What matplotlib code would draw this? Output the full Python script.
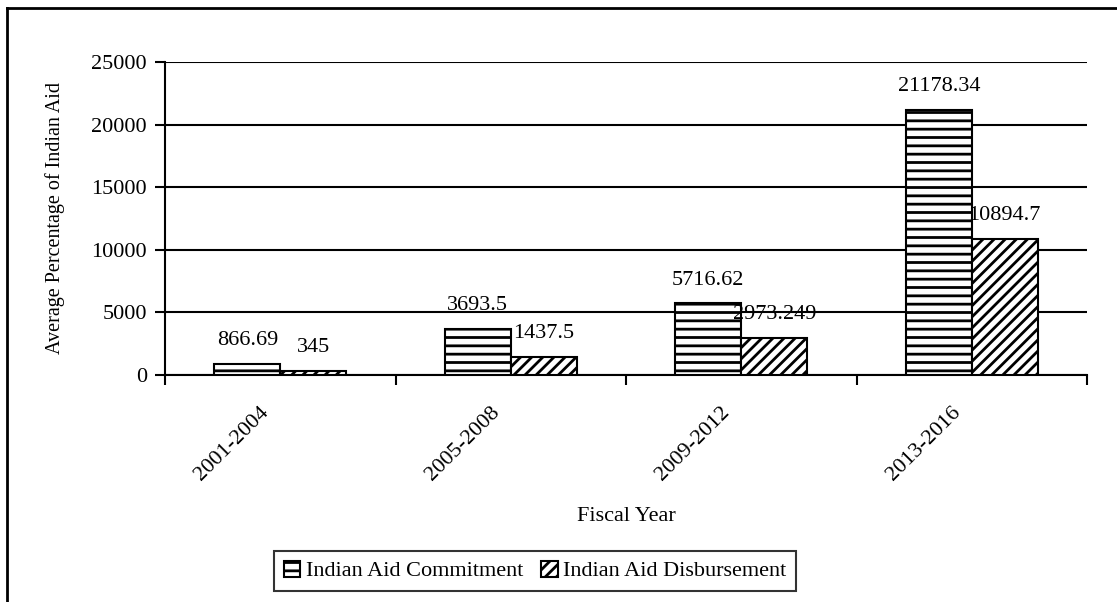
import numpy as np
import matplotlib.pyplot as plt
from matplotlib.lines import Line2D

# Average Indian aid per fiscal-year block
periods = ["2001-2004", "2005-2008", "2009-2012", "2013-2016"]
commitment = [866.69, 3693.5, 5716.62, 21178.34]
disbursement = [345, 1437.5, 2973.249, 10894.7]
commitment_labels = ["866.69", "3693.5", "5716.62", "21178.34"]
disbursement_labels = ["345", "1437.5", "2973.249", "10894.7"]

plt.rcParams['font.family'] = 'Liberation Serif'
plt.rcParams['font.size'] = 16
plt.rcParams['hatch.linewidth'] = 2.0

fig = plt.figure(figsize=(11.17, 6.02), dpi=100)
ax = fig.add_axes([0.1477, 0.3771, 0.8255, 0.5199])

x = np.arange(len(periods))
w = 0.286
b1 = ax.bar(x - w / 2, commitment, w, color='white', edgecolor='black',
            linewidth=1.5, hatch='--', label='Indian Aid Commitment', zorder=3)
b2 = ax.bar(x + w / 2, disbursement, w, color='white', edgecolor='black',
            linewidth=1.5, hatch='///', label='Indian Aid Disbursement', zorder=3)

for rect, txt in zip(b1, commitment_labels):
    ax.annotate(txt, (rect.get_x() + rect.get_width() / 2, rect.get_height()),
                xytext=(0, 10), textcoords='offset points', ha='center', va='bottom')
for rect, txt in zip(b2, disbursement_labels):
    ax.annotate(txt, (rect.get_x() + rect.get_width() / 2, rect.get_height()),
                xytext=(0, 10), textcoords='offset points', ha='center', va='bottom')

ax.set_xlim(-0.5, 3.5)
ax.set_ylim(0, 25000)
ax.set_yticks(np.arange(0, 25001, 5000))
ax.yaxis.grid(True, color='black', linewidth=1.5, zorder=0)
ax.set_axisbelow(True)

# slanted labels sit slightly left of each group centre (major ticks are invisible)
ax.set_xticks(x - 0.06)
ax.set_xticklabels(periods, rotation=45, ha='right', va='center', rotation_mode='anchor')
ax.set_xticks(np.arange(-0.5, 4, 1), minor=True)
ax.tick_params(axis='x', which='major', length=0, pad=25)
ax.tick_params(axis='x', which='minor', length=7, width=1.5, direction='out')
ax.tick_params(axis='y', length=7, width=1.5, direction='out', pad=6)

for side in ['top', 'right']:
    ax.spines[side].set_visible(False)
for side in ['left', 'bottom']:
    ax.spines[side].set_linewidth(1.5)

ax.set_xlabel('Fiscal Year', labelpad=16)
ax.set_ylabel('Average Percentage of Indian Aid', fontsize=14.5, labelpad=19)

leg = fig.legend(handles=[b1, b2], loc='center', bbox_to_anchor=(0.479, 0.0515),
                 ncol=2, frameon=True, fancybox=False, edgecolor='black',
                 handlelength=0.75, handleheight=0.75, handletextpad=0.25,
                 columnspacing=0.8, borderpad=0.45, borderaxespad=0.0, fontsize=16)
leg.get_frame().set_linewidth(1.5)

# outer frame lines (top and left)
fig.add_artist(Line2D([0.0063, 1.0], [0.986, 0.986], color='black', linewidth=2,
                      transform=fig.transFigure))
fig.add_artist(Line2D([0.0063, 0.0063], [0.0, 0.986], color='black', linewidth=2,
                      transform=fig.transFigure))

fig.savefig('out.png', dpi=100)
